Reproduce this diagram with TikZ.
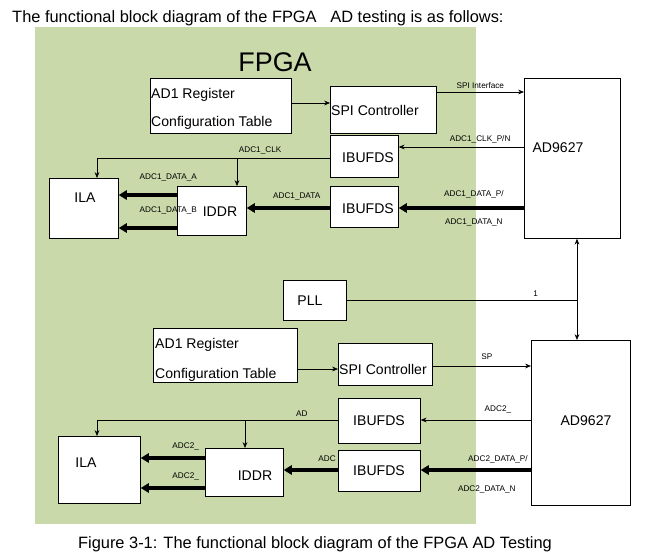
\documentclass[tikz,border=0pt]{standalone}
\usepackage{fontspec}
\setmainfont{Liberation Sans}
\usetikzlibrary{arrows.meta}
\definecolor{fpgagreen}{HTML}{C9D9AA}
\begin{document}
\begin{tikzpicture}[x=0.03cm,y=-0.03cm,
  box/.style={draw,fill=white,anchor=north west,inner sep=0pt,line width=0.6pt},
  txt/.style={font=\fontsize{12}{13}\selectfont,inner sep=0pt},
  lbl/.style={font=\fontsize{7}{8}\selectfont,inner sep=0pt},
  thin/.style={-{Stealth[length=5pt,width=4pt]},line width=0.5pt},
  thick/.style={-{Triangle[length=7pt,width=8pt]},line width=3pt}]
\useasboundingbox (0,0) rectangle (662,558);
% headers
\node[anchor=west,font=\fontsize{14}{16}\selectfont,inner sep=0pt] (head) at (12,18) {The functional block diagram of the FPGA \ \ AD testing is as follows:};
\node[fill=fpgagreen,anchor=north west,minimum width=13.23cm,minimum height=14.91cm,inner sep=0pt] (fpga) at (35,27) {};
\node[font=\fontsize{23}{25}\selectfont,inner sep=0pt] (title) at (275,62) {FPGA};
\node[font=\fontsize{14}{16}\selectfont,inner sep=0pt] (cap) at (315,544) {Figure 3-1: The functional block diagram of the FPGA AD Testing};
% upper blocks
\node[box,minimum width=4.23cm,minimum height=1.65cm] (reg1) at (150,78) {};
\node[txt,anchor=west] (reg1a) at (151,95) {AD1 Register};
\node[txt,anchor=west] (reg1b) at (151,123) {Configuration Table};
\node[box,minimum width=3.18cm,minimum height=1.41cm] (spi1) at (330,86) {};
\node[txt,anchor=west] (spi1t) at (331,110) {SPI Controller};
\node[box,minimum width=2.04cm,minimum height=1.26cm] (ibuf1a) at (330,135) {};
\node[txt] (ibuf1at) at (368,158) {IBUFDS};
\node[box,minimum width=2.04cm,minimum height=1.23cm] (ibuf1b) at (330,186) {};
\node[txt] (ibuf1bt) at (368,209) {IBUFDS};
\node[box,minimum width=2.07cm,minimum height=1.8cm] (ila1) at (49,178) {};
\node[txt] (ila1t) at (85,198) {ILA};
\node[box,minimum width=2.07cm,minimum height=1.47cm] (iddr1) at (177,186) {};
\node[txt] (iddr1t) at (220,212) {IDDR};
\node[box,minimum width=2.88cm,minimum height=4.8cm] (ada) at (524,78) {};
\node[txt] (adat) at (558,148) {AD9627};
\node[box,minimum width=1.89cm,minimum height=1.2cm] (pll) at (283,280) {};
\node[txt] (pllt) at (310,301) {PLL};
% lower blocks
\node[box,minimum width=4.32cm,minimum height=1.62cm] (reg2) at (153,328) {};
\node[txt,anchor=west] (reg2a) at (155,345) {AD1 Register};
\node[txt,anchor=west] (reg2b) at (155,375) {Configuration Table};
\node[box,minimum width=2.82cm,minimum height=1.26cm] (spi2) at (338,343) {};
\node[txt,anchor=west] (spi2t) at (339,369) {SPI Controller};
\node[box,minimum width=2.46cm,minimum height=1.35cm] (ibuf2a) at (338,398) {};
\node[txt] (ibuf2at) at (379,421) {IBUFDS};
\node[box,minimum width=2.46cm,minimum height=1.23cm] (ibuf2b) at (338,450) {};
\node[txt] (ibuf2bt) at (379,471) {IBUFDS};
\node[box,minimum width=2.46cm,minimum height=2.01cm] (ila2) at (58,436) {};
\node[txt] (ila2t) at (86,463) {ILA};
\node[box,minimum width=2.34cm,minimum height=1.44cm] (iddr2) at (205,448) {};
\node[txt] (iddr2t) at (255,476) {IDDR};
\node[box,minimum width=2.97cm,minimum height=4.95cm] (adb) at (531,340) {};
\node[txt] (adbt) at (586,421) {AD9627};
% upper connectors
\draw[thin] (reg1.east |- 0,103) -- (spi1.west |- 0,103);
\draw[thin] (spi1.east |- 0,92) -- node[lbl,above=3pt] {SPI Interface} (ada.west |- 0,92);
\draw[thin] (ada.west |- 0,147) -- node[lbl,above=3pt,pos=0.35] {ADC1\_CLK\_P/N} (ibuf1a.east |- 0,147);
\coordinate (k1) at (97,158);
\coordinate (k2) at (237,158);
\draw[line width=0.5pt] (ibuf1a.west |- 0,158) -- node[lbl,above=3pt,pos=0.3] {ADC1\_CLK} (k1);
\draw[thin] (k1) -- (k1 |- ila1.north);
\draw[thin] (k2) -- (k2 |- iddr1.north);
\draw[thick] (ada.west |- 0,208) -- node[lbl,above=7pt,pos=0.4] {ADC1\_DATA\_P/} node[lbl,below=8pt,pos=0.4] {ADC1\_DATA\_N} (ibuf1b.east |- 0,208);
\draw[thick] (ibuf1b.west |- 0,208) -- node[lbl,above=5pt,pos=0.4] {ADC1\_DATA} (iddr1.east |- 0,208);
\draw[thick] (iddr1.west |- 0,195) -- node[lbl,above=10pt,pos=0.15] {ADC1\_DATA\_A} (ila1.east |- 0,195);
\draw[thick] (iddr1.west |- 0,228) -- node[lbl,above=10pt,pos=0.15] {ADC1\_DATA\_B} (ila1.east |- 0,228);
% PLL
\coordinate (p1) at (577,300);
\draw[line width=0.5pt] (pll.east |- 0,300) -- node[lbl,above=3pt,pos=0.82] {1} (p1);
\draw[thin] (p1) -- (p1 |- ada.south);
\draw[thin] (p1) -- (p1 |- adb.north);
% lower connectors
\draw[thin] (reg2.east |- 0,369) -- (spi2.west |- 0,369);
\draw[thin] (spi2.east |- 0,366) -- node[lbl,above=5pt,pos=0.55] {SP} (adb.west |- 0,366);
\draw[thin] (adb.west |- 0,420) -- node[lbl,above=6pt,pos=0.3] {ADC2\_} (ibuf2a.east |- 0,420);
\coordinate (k3) at (97,420);
\coordinate (k4) at (245,420);
\draw[line width=0.5pt] (ibuf2a.west |- 0,420) -- node[lbl,above=3pt,pos=0.15] {AD} (k3);
\draw[thin] (k3) -- (k3 |- ila2.north);
\draw[thin] (k4) -- (k4 |- iddr2.north);
\draw[thick] (adb.west |- 0,470) -- node[lbl,above=4pt,pos=0.3] {ADC2\_DATA\_P/} node[lbl,below=12pt,pos=0.4] {ADC2\_DATA\_N} (ibuf2b.east |- 0,470);
\draw[thick] (ibuf2b.west |- 0,470) -- node[lbl,above=6pt,pos=0.2] {ADC} (iddr2.east |- 0,470);
\draw[thick] (iddr2.west |- 0,458) -- node[lbl,above=5pt,pos=0.3] {ADC2\_} (ila2.east |- 0,458);
\draw[thick] (iddr2.west |- 0,488) -- node[lbl,above=5pt,pos=0.3] {ADC2\_} (ila2.east |- 0,488);
\end{tikzpicture}
\end{document}
